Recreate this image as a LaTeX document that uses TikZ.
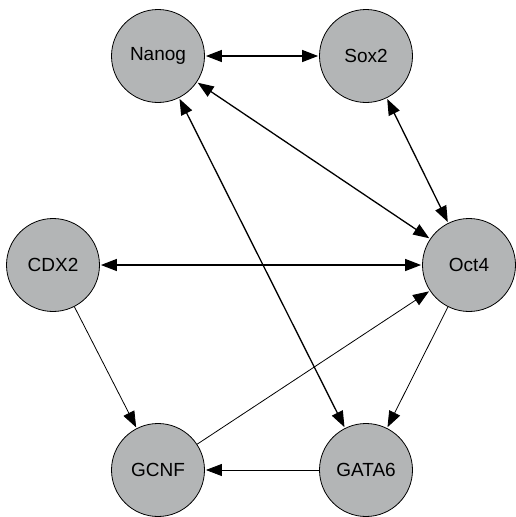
\documentclass[tikz,border=0pt]{standalone}
\usepackage{fontspec}
\setmainfont{Liberation Sans}
\usetikzlibrary{arrows.meta}
\definecolor{nodegray}{HTML}{B3B5B6}
\begin{document}
\begin{tikzpicture}[x=1pt,y=-1pt,
  gene/.style={circle,draw=black,line width=0.8pt,fill=nodegray,minimum size=93pt,inner sep=0pt,font=\fontsize{19}{22}\selectfont},
  tip/.style={-{Triangle[length=16pt,width=12pt]}},
  both/.style={{Triangle[length=16pt,width=12pt]}-{Triangle[length=16pt,width=12pt]},line width=1.3pt,shorten <=1pt,shorten >=1pt},
  one/.style={tip,line width=0.8pt,shorten >=1pt}]
\useasboundingbox (0,0) rectangle (515,517);
\node[gene] (nanog) at (158,56) {Nanog};
\node[gene] (sox2) at (366,56) {Sox2};
\node[gene] (oct4) at (469,265) {Oct4};
\node[gene] (cdx2) at (53,265) {CDX2};
\node[gene] (gcnf) at (158,470) {GCNF};
\node[gene] (gata6) at (366,470) {GATA6};
\draw[both] (nanog) -- (sox2);
\draw[both] (nanog) -- (oct4);
\draw[both] (sox2) -- (oct4);
\draw[both] (cdx2) -- (oct4);
\draw[both] (nanog) -- (gata6);
\draw[one] (oct4) -- (gata6);
\draw[one] (cdx2) -- (gcnf);
\draw[one] (gcnf) -- (oct4);
\draw[one] (gata6) -- (gcnf);
\end{tikzpicture}
\end{document}
